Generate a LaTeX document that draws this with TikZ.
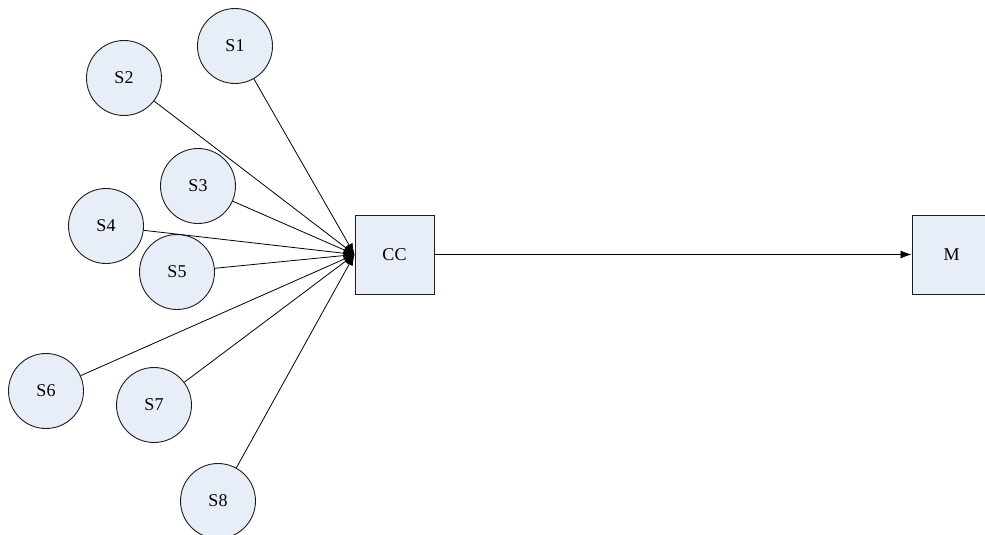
\documentclass[tikz,border=0pt]{standalone}
\usepackage{fontspec}
\setmainfont{Liberation Serif}
\usetikzlibrary{arrows.meta}
\definecolor{nodefill}{RGB}{232,238,247}
\definecolor{edgecol}{RGB}{30,30,30}
\tikzset{
  sensor/.style={circle, draw=edgecol, line width=0.9pt, fill=nodefill, minimum size=75pt, inner sep=0pt, font=\fontsize{18}{20}\selectfont},
  boxnode/.style={rectangle, draw=edgecol, line width=0.9pt, fill=nodefill, minimum width=79pt, minimum height=79pt, inner sep=0pt, font=\fontsize{18}{20}\selectfont},
  link/.style={line width=0.8pt, black, -{Latex[length=11pt,width=8pt]}}
}
\begin{document}
\begin{tikzpicture}[x=1pt,y=-1pt]
\useasboundingbox (0,0) rectangle (985,535);
\node[boxnode] (cc) at (394.5,254.5) {CC};
\node[boxnode] (m) at (951.5,254.5) {M};
\node[sensor] (s1) at (235,46) {S1};
\node[sensor] (s2) at (124,78) {S2};
\node[sensor] (s3) at (198,186) {S3};
\node[sensor] (s4) at (106,226) {S4};
\node[sensor] (s5) at (177,272) {S5};
\node[sensor] (s6) at (46,391) {S6};
\node[sensor] (s7) at (154,405) {S7};
\node[sensor] (s8) at (218,501) {S8};
\foreach \s in {s1,s2,s3,s4,s5,s6,s7,s8}
  \draw[link] (\s) -- (cc.west);
\draw[link] (cc.east) -- (m.west);
\end{tikzpicture}
\end{document}
